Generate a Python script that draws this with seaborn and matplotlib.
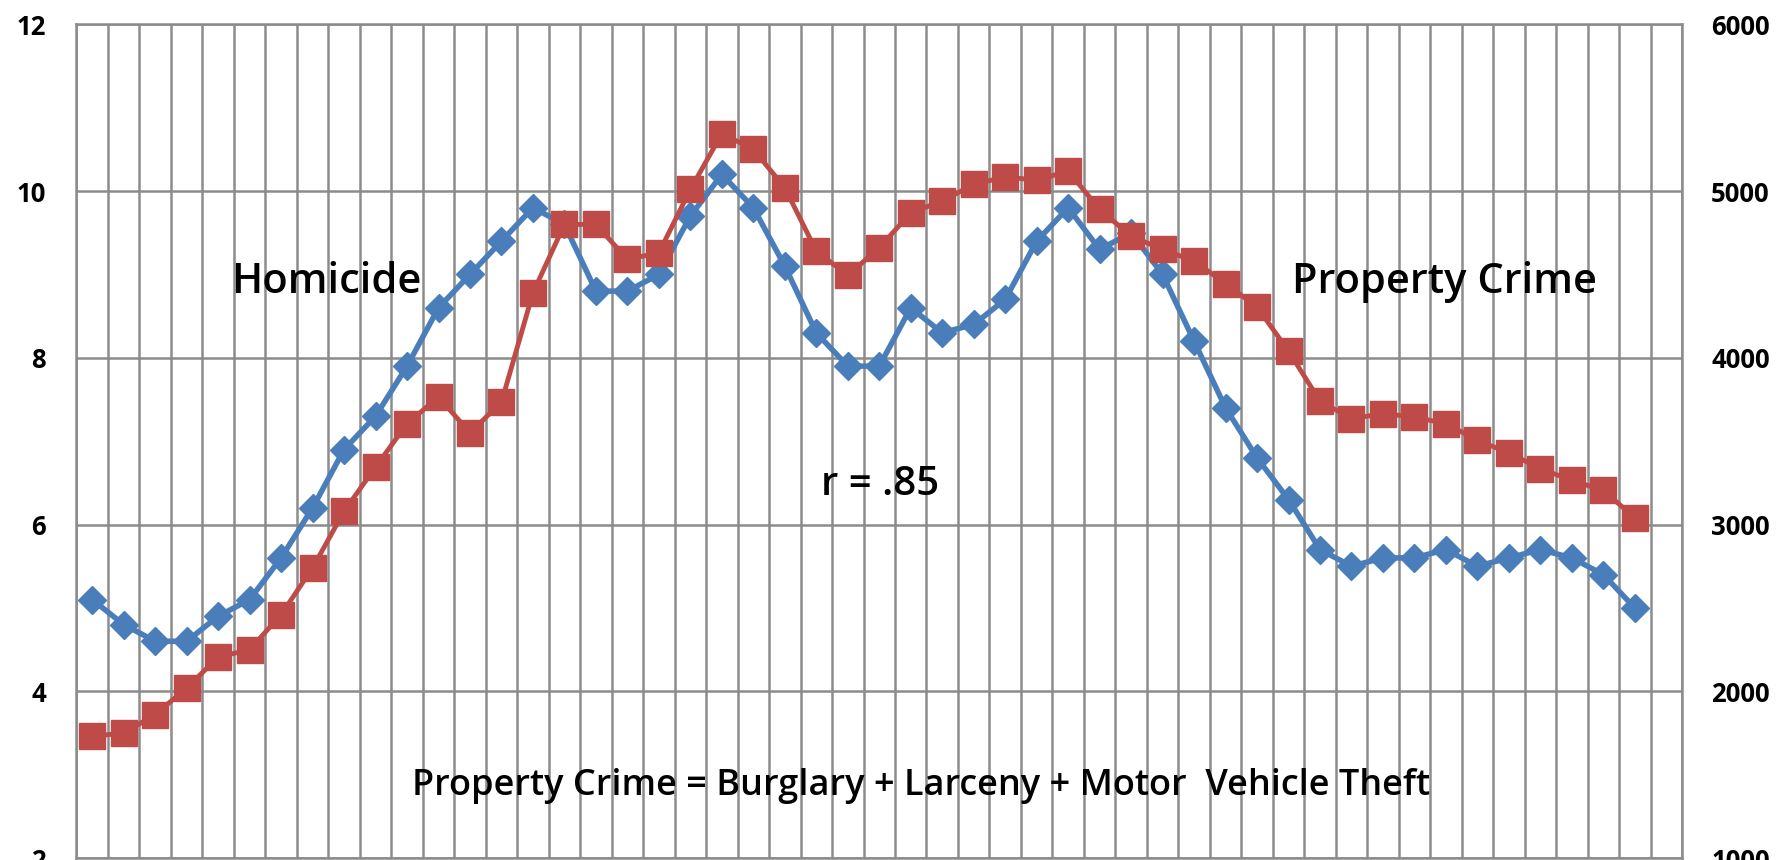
import numpy as np
import pandas as pd
import matplotlib
matplotlib.use('Agg')
import matplotlib.pyplot as plt
import seaborn as sns

# values, one per year (50 years)
homicide = [5.1, 4.8, 4.6, 4.6, 4.9, 5.1, 5.6, 6.2, 6.9, 7.3,
            7.9, 8.6, 9.0, 9.4, 9.8, 9.6, 8.8, 8.8, 9.0, 9.7,
            10.2, 9.8, 9.1, 8.3, 7.9, 7.9, 8.6, 8.3, 8.4, 8.7,
            9.4, 9.8, 9.3, 9.5, 9.0, 8.2, 7.4, 6.8, 6.3, 5.7,
            5.5, 5.6, 5.6, 5.7, 5.5, 5.6, 5.7, 5.6, 5.4, 5.0]
property_crime = [1730, 1750, 1860, 2020, 2205, 2250, 2460, 2740, 3080, 3345,
                  3605, 3765, 3550, 3735, 4390, 4800, 4800, 4590, 4630, 5010,
                  5345, 5250, 5020, 4640, 4495, 4660, 4870, 4940, 5040, 5085,
                  5065, 5120, 4890, 4730, 4650, 4580, 4445, 4305, 4040, 3740,
                  3635, 3665, 3645, 3605, 3505, 3430, 3335, 3265, 3205, 3040]
left_ticks = [2, 4, 6, 8, 10, 12]
right_ticks = [1000, 2000, 3000, 4000, 5000, 6000]

n_slots = len(homicide) + 1  # excel axis leaves one empty slot at the end
df = pd.DataFrame({'slot': np.arange(len(homicide)),
                   'Homicide': homicide,
                   'Property Crime': property_crime})

sns.set_style('white')
plt.rcParams['font.family'] = ['Open Sans', 'DejaVu Sans']
plt.rcParams['text.color'] = 'black'
plt.rcParams['ytick.color'] = 'black'

blue = '#4A7EBB'
red = '#BE4B48'
grid_col = '#8C8C8C'

fig = plt.figure(figsize=(17.79, 8.6), dpi=100)
ax = fig.add_axes([0.043, 0.0023, 0.9025, 0.9694])
ax2 = ax.twinx()

sns.lineplot(data=df, x='slot', y='Homicide', ax=ax, color=blue, lw=4,
             marker='D', markersize=14, markeredgecolor=blue, markeredgewidth=1)
sns.lineplot(data=df, x='slot', y='Property Crime', ax=ax2, color=red, lw=3.5,
             marker='s', markersize=19, markeredgecolor=red, markeredgewidth=1)

ax.set_xlim(-0.5, n_slots - 0.5)
ax.set_ylim(2, 12)
ax2.set_ylim(1000, 6000)
ax.set_xticks(np.arange(-0.5, n_slots, 1))
ax.set_xticklabels([])
ax.set_yticks(left_ticks)
ax2.set_yticks(right_ticks)
ax.set_xlabel('')
ax.set_ylabel('')
ax2.set_ylabel('')

ax.grid(True, color=grid_col, lw=1.8)
ax.set_axisbelow(True)
for s in ax.spines.values():
    s.set_color(grid_col)
    s.set_linewidth(1.8)
for s in ax2.spines.values():
    s.set_visible(False)

ax.tick_params(axis='x', length=0)
ax.tick_params(axis='y', length=0, pad=22, labelsize=18.5, labelcolor='black')
ax2.tick_params(axis='y', length=0, pad=21, labelsize=18.5, labelcolor='black')
for lab in ax.get_yticklabels() + ax2.get_yticklabels():
    lab.set_fontweight('bold')

ax.text(7.43, 8.78, 'Homicide', fontsize=30, fontweight='semibold',
        color='black', ha='center', va='baseline')
ax.text(42.97, 8.78, 'Property Crime', fontsize=30, fontweight='semibold',
        color='black', ha='center', va='baseline')
ax.text(25.02, 6.35, 'r = .85', fontsize=29, fontweight='semibold',
        color='black', ha='center', va='baseline')
ax.text(26.33, 2.76, 'Property Crime = Burglary + Larceny + Motor  Vehicle Theft',
        fontsize=26, fontweight='semibold', color='black', ha='center', va='baseline')

fig.savefig('out.png', dpi=100)
